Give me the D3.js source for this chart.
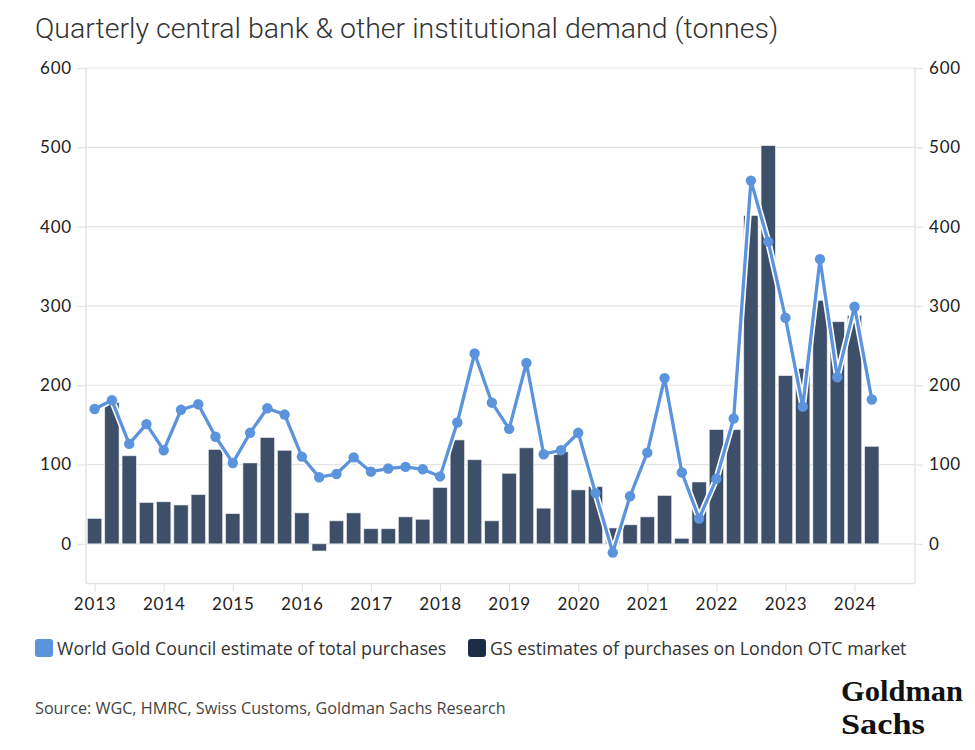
<!DOCTYPE html>
<html>
<head>
<meta charset="utf-8">
<script src="https://cdn.jsdelivr.net/npm/d3@7"></script>
<style>
  html, body { margin: 0; padding: 0; background: #fff; }
  svg { display: block; }
</style>
</head>
<body>
<svg id="chart" width="975" height="750"></svg>
<script>
// ---- Data (2013 Q1 – 2024 Q2) ----
const quarters = [];
for (let y = 2013; y <= 2024; y++) for (let q = 1; q <= 4; q++) quarters.push(y + " Q" + q);
const quarterLabels = quarters.slice(0, 46);

const gsOtcPurchases = [32,178,111,52,53,49,62,119,38,102,134,118,39,-9,29,39,19,19,34,31,71,131,106,29,89,121,45,116,68,72,20,24,34,61,7,78,144,144,414,502,212,221,307,280,288,123];

const wgcTotalPurchases = [170,181,126,151,118,169,176,135,102,140,171,163,110,84,88,109,91,95,97,94,85,153,240,178,145,228,113,118,140,64,-11,60,115,209,90,32,82,158,458,381,285,173,359,210,299,182];

const yearTicks = [2013,2014,2015,2016,2017,2018,2019,2020,2021,2022,2023,2024];
const yTicks = [0,100,200,300,400,500,600];

const titleText = "Quarterly central bank & other institutional demand (tonnes)";
const legendItems = ["World Gold Council estimate of total purchases", "GS estimates of purchases on London OTC market"];
const sourceText = "Source: WGC, HMRC, Swiss Customs, Goldman Sachs Research";
const logoLines = ["Goldman", "Sachs"];

// ---- Layout ----
const svg = d3.select("#chart");
const L = 86, R = 915, T = 68, B = 583.5;
const x = d3.scaleLinear().domain([-0.5, 47.5]).range([L, R]);
const y = d3.scaleLinear().domain([-50, 600]).range([B, T]);
const step = x(1) - x(0);
const barW = step - 3;
const gridColor = "#e4e4e4";
const tickFont = "Lato, 'Open Sans', sans-serif";
const textFont = "'Open Sans', Lato, sans-serif";

// Title
svg.append("text").attr("x", 35).attr("y", 38)
  .style("font-family", "Roboto, sans-serif").style("font-weight", 300)
  .style("font-size", "28.5px").style("fill", "#333").text(titleText);

// Gridlines
svg.append("g").selectAll("line").data(yTicks).join("line")
  .attr("x1", L).attr("x2", R).attr("y1", d => y(d)).attr("y2", d => y(d))
  .attr("stroke", gridColor).attr("stroke-width", 1.2);

// Left axis
const leftAxis = svg.append("g").attr("transform", `translate(${L},0)`)
  .call(d3.axisLeft(y).tickValues(yTicks).tickSize(9).tickPadding(5));
// Right axis
const rightAxis = svg.append("g").attr("transform", `translate(${R},0)`)
  .call(d3.axisRight(y).tickValues(yTicks).tickSize(8).tickPadding(6));
// Bottom axis
const xAxis = svg.append("g").attr("transform", `translate(0,${B})`)
  .call(d3.axisBottom(x).tickValues(yearTicks.map(yr => (yr - 2013) * 4))
    .tickFormat(i => String(2013 + i / 4)).tickSize(8).tickPadding(6));

[leftAxis, rightAxis, xAxis].forEach(g => {
  g.select(".domain").attr("stroke", gridColor).attr("stroke-width", 1.5);
  g.selectAll(".tick line").attr("stroke", gridColor).attr("stroke-width", 1.2);
  g.selectAll(".tick text").style("font-family", tickFont).style("font-size", "17px")
    .style("letter-spacing", "0.8px").style("fill", "#222");
});
leftAxis.select(".domain").attr("d", `M0,${T}V${B}`);
rightAxis.select(".domain").attr("d", `M0,${T}V${B}`);
xAxis.select(".domain").attr("d", `M${L},0H${R}`);

// Bars
svg.append("g").selectAll("rect").data(gsOtcPurchases).join("rect")
  .attr("x", (d, i) => x(i) - barW / 2)
  .attr("width", barW)
  .attr("y", d => Math.min(y(d), y(0)))
  .attr("height", d => Math.abs(y(d) - y(0)))
  .attr("fill", "#3e5069")
  .attr("stroke", "#e6e9ee").attr("stroke-width", 0.6);

// Line with white halo
const line = d3.line().x((d, i) => x(i)).y(d => y(d));
svg.append("path").datum(wgcTotalPurchases).attr("d", line)
  .attr("fill", "none").attr("stroke", "#ffffff").attr("stroke-width", 6.5).attr("stroke-linejoin", "round");
svg.append("path").datum(wgcTotalPurchases).attr("d", line)
  .attr("fill", "none").attr("stroke", "#5b94dc").attr("stroke-width", 3.3).attr("stroke-linejoin", "round");
svg.append("g").selectAll("circle").data(wgcTotalPurchases).join("circle")
  .attr("cx", (d, i) => x(i)).attr("cy", d => y(d)).attr("r", 5.2)
  .attr("fill", "#5b94dc");

// Legend
const lg = svg.append("g");
const swatchColors = ["#5b94dc", "#1b2c47"];
const legendX = [35, 468];
legendItems.forEach((t, i) => {
  lg.append("rect").attr("x", legendX[i]).attr("y", 639).attr("width", 18).attr("height", 18)
    .attr("rx", 3).attr("fill", swatchColors[i]);
  lg.append("text").attr("x", legendX[i] + 22).attr("y", 655)
    .style("font-family", textFont).style("font-size", "17.8px").style("fill", "#333").text(t);
});

// Source
svg.append("text").attr("x", 35).attr("y", 714)
  .style("font-family", textFont).style("font-size", "16.2px").style("fill", "#444").text(sourceText);

// Logo
const logoY = [701, 734];
const logoW = [122, 84];
const logo = svg.append("g")
  .style("font-family", "'Liberation Serif', 'DejaVu Serif', serif")
  .style("font-weight", 700).style("fill", "#111").style("font-size", "29px");
logoLines.forEach((t, i) => {
  logo.append("text").attr("x", 841).attr("y", logoY[i])
    .attr("textLength", logoW[i]).attr("lengthAdjust", "spacingAndGlyphs").text(t);
});
</script>
</body>
</html>
